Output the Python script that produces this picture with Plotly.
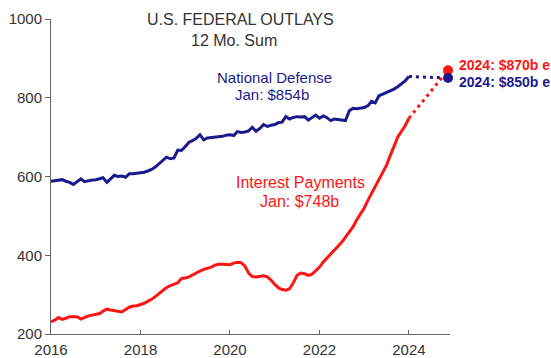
import pandas as pd
import plotly.graph_objects as go

# Monthly 12-month sums, $ billions, Jan 2016 .. Jan 2024
months = pd.date_range("2016-01-01", "2024-01-01", freq="MS")

defense = [
    588, 590, 591, 592, 588, 585, 580, 588, 594, 587, 590, 591,
    592, 594, 597, 585, 595, 603, 600, 601, 598, 607, 607, 608,
    610, 611, 614, 618, 624, 632, 640, 649, 645, 647, 667, 666,
    676, 687, 691, 697, 706, 693, 698, 699, 699, 700, 702, 705,
    706, 704, 714, 712, 713, 716, 725, 715, 722, 732, 727, 730,
    732, 737, 738, 752, 746, 750, 752, 751, 752, 743, 750, 756,
    748, 754, 750, 742, 746, 745, 743, 742, 767, 773, 772, 773,
    775, 780, 791, 787, 805, 809, 813, 818, 822, 828, 835, 843,
    854,
]

interest = [
    231, 235, 242, 237, 240, 244, 244, 244, 238, 242, 246, 248,
    250, 252, 258, 263, 261, 259, 257, 256, 262, 268, 271, 272,
    275, 278, 283, 288, 295, 303, 310, 318, 323, 327, 330, 341,
    342, 345, 350, 354, 360, 364, 366, 370, 375, 377, 377, 376,
    376, 380, 382, 381, 373, 355, 346, 345, 347, 348, 345, 337,
    326, 317, 313, 311, 315, 330, 349, 355, 353, 349, 352, 360,
    370, 383, 392, 403, 412, 421, 433, 446, 459, 472, 490, 505,
    520, 540, 556, 575, 590, 611, 628, 653, 675, 700, 715, 729,
    748,
]

# 2024 full-year estimates
est_date = "2024-11-15"
defense_est = 850
interest_est = 870

NAVY = "#1a1a8e"
RED = "#ff1414"

fig = go.Figure()

fig.add_trace(go.Scatter(
    x=months, y=defense, mode="lines",
    line=dict(color=NAVY, width=3), hoverinfo="skip", showlegend=False))
fig.add_trace(go.Scatter(
    x=months, y=interest, mode="lines",
    line=dict(color=RED, width=3), hoverinfo="skip", showlegend=False))

# dotted bridges from the latest reading to the estimate
fig.add_trace(go.Scatter(
    x=[months[-1], est_date], y=[defense[-1], defense_est], mode="lines",
    line=dict(color=NAVY, width=3, dash="3px,4px"), showlegend=False))
fig.add_trace(go.Scatter(
    x=[months[-1], est_date], y=[interest[-1], interest_est], mode="lines",
    line=dict(color=RED, width=3, dash="3px,4px"), showlegend=False))

fig.add_trace(go.Scatter(
    x=[est_date], y=[interest_est], mode="markers", cliponaxis=False,
    marker=dict(color=RED, size=10), showlegend=False))
fig.add_trace(go.Scatter(
    x=[est_date], y=[defense_est], mode="markers", cliponaxis=False,
    marker=dict(color=NAVY, size=10), showlegend=False))

# plot-area geometry in pixels
L, T, W, H = 51, 19, 399, 315


def px(xp, yp):
    return (xp - L) / W, (T + H - yp) / H


def label(text, xp, yp, color, size=16, bold=False, xanchor="center"):
    x, y = px(xp, yp)
    fig.add_annotation(
        x=x, y=y, xref="paper", yref="paper", text=f"<b>{text}</b>" if bold else text,
        showarrow=False, xanchor=xanchor, yanchor="middle",
        font=dict(family="Liberation Sans, Arial, sans-serif", size=size, color=color))


label("U.S. FEDERAL OUTLAYS", 240.5, 20, "#333333")
label("12 Mo. Sum", 233.5, 40, "#333333")
label("National Defense", 274.5, 77, NAVY, size=15)
label("Jan: $854b", 271.5, 94, NAVY, size=15)
label("Interest Payments", 300.5, 183, RED)
label("Jan: $748b", 299, 202, RED)
label("2024: $870b e", 457, 65, RED, size=14, bold=True, xanchor="left")
label("2024: $850b e", 457, 82, NAVY, size=14, bold=True, xanchor="left")

tick_years = [2016, 2018, 2020, 2022, 2024]

fig.update_layout(
    width=551, height=358,
    margin=dict(l=L, r=551 - L - W, t=T, b=358 - T - H, pad=0, autoexpand=False),
    paper_bgcolor="white", plot_bgcolor="white",
    font=dict(family="Liberation Sans, Arial, sans-serif", size=15, color="#333333"),
    xaxis=dict(
        type="date", range=["2016-01-01", "2024-12-01"],
        tickvals=[f"{y}-01-01" for y in tick_years],
        ticktext=[str(y) for y in tick_years],
        showgrid=False, zeroline=False, automargin=False,
        showline=True, linecolor="#666666", linewidth=1,
        ticks="inside", ticklen=4, tickcolor="#666666",
        ticklabelstandoff=2,
        tickfont=dict(size=15, color="#333333"),
    ),
    yaxis=dict(
        range=[200, 1000], tickvals=[200, 400, 600, 800, 1000],
        showgrid=False, zeroline=False, automargin=False,
        showline=True, linecolor="#666666", linewidth=1,
        ticks="outside", ticklen=5, tickcolor="#666666",
        tickfont=dict(size=15, color="#333333"),
    ),
)

fig.write_html("out.html")
